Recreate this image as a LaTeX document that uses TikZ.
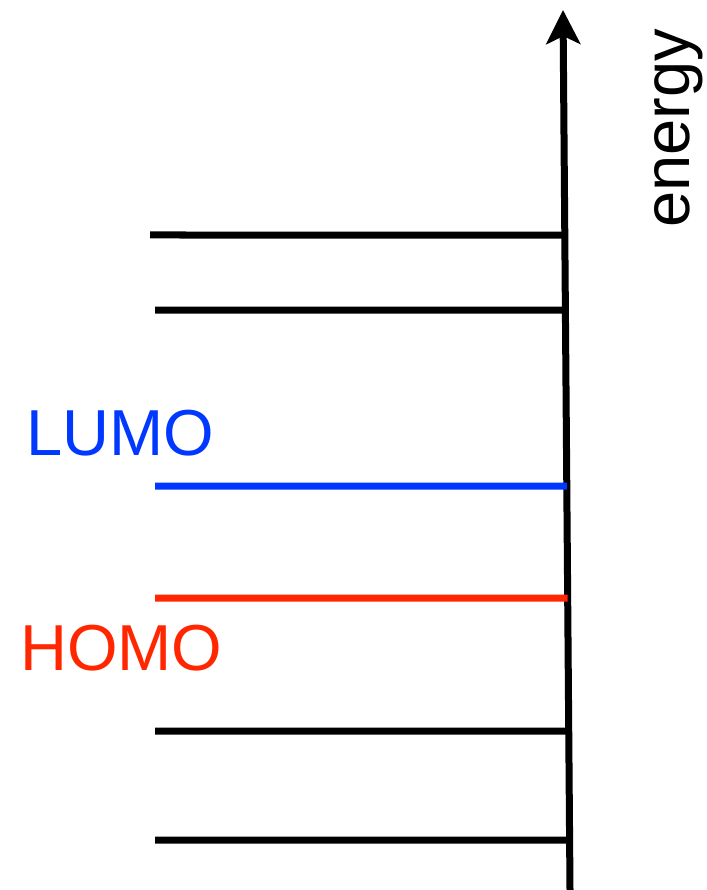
\documentclass[tikz,border=0pt]{standalone}
\usepackage{fontspec}
\setmainfont{Liberation Sans}
\usetikzlibrary{arrows.meta}
\definecolor{lumoblue}{RGB}{0,56,255}
\definecolor{homored}{RGB}{255,38,0}
\begin{document}
\begin{tikzpicture}[x=1pt,y=-1pt,
  level/.style={line width=7pt},
  lbl/.style={font=\fontsize{65}{65}\selectfont, inner sep=0pt}]
\useasboundingbox (0,0) rectangle (706,890);
% axis
\coordinate (axb) at (570,890);
\coordinate (axt) at (563,10);
\draw[line width=7pt, -{Stealth[length=34pt,width=34pt,inset=8pt]}] (axb) -- (axt);
% levels
\foreach \name/\xl/\y/\col in {l1/150/235/black, l2/155/310/black, lu/155/486/lumoblue, ho/155/598/homored, l5/155/731/black, l6/155/840/black}{
  \coordinate (\name s) at (\xl,\y);
  \path (axb) -- (axt) coordinate[pos={(890-\y)/880}] (\name e);
  \draw[level, draw=\col] (\name s) -- (\name e);
}
\node[lbl, text=lumoblue, anchor=base west] (lumo) at (26,455) {LUMO};
\node[lbl, text=homored, anchor=base west] (homo) at (20,670) {HOMO};
\node[lbl, rotate=90, anchor=base west] (energy) at (689,228) {energy};
\end{tikzpicture}
\end{document}
